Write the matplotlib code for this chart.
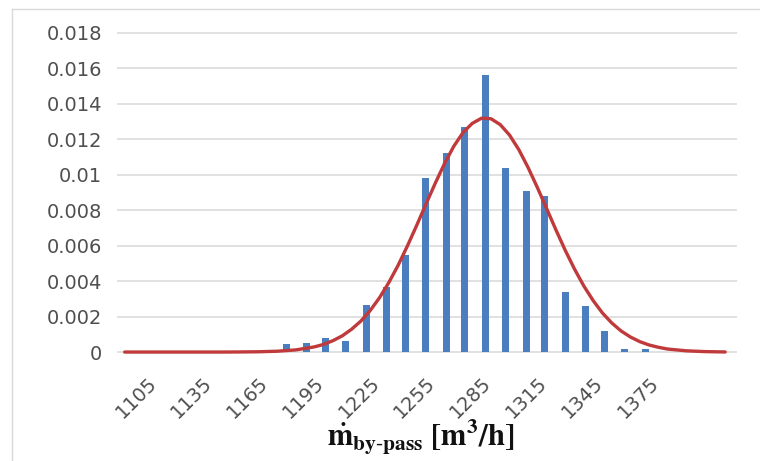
import matplotlib
matplotlib.use("Agg")
import matplotlib.pyplot as plt
from matplotlib.lines import Line2D

# ---- data ----
bar_x = [1180, 1191, 1201, 1212, 1223, 1234, 1244, 1255, 1266, 1276,
         1287, 1298, 1309, 1319, 1330, 1341, 1351, 1362, 1373]
bar_h = [0.00043, 0.00053, 0.00081, 0.00062, 0.00266, 0.00367, 0.00545,
         0.0098, 0.0112, 0.0127, 0.0156, 0.0104, 0.0091, 0.0088, 0.0034,
         0.0026, 0.0012, 0.00015, 0.00015]

curve_x = [1093, 1105, 1115, 1125, 1135, 1145, 1155, 1165, 1175, 1185, 1195,
           1200, 1205, 1210, 1215, 1220, 1225, 1230, 1235, 1240, 1245, 1250,
           1255, 1260, 1265, 1270, 1275, 1280, 1285, 1290, 1295, 1300, 1305,
           1310, 1315, 1320, 1325, 1330, 1335, 1340, 1345, 1350, 1355, 1360,
           1365, 1370, 1375, 1380, 1385, 1395, 1405, 1416]
curve_y = [0, 0, 0, 0, 0, 0, 0.000005, 0.000016, 0.000046, 0.00012, 0.00029,
           0.00043, 0.00064, 0.00091, 0.00128, 0.00174, 0.00233, 0.00305,
           0.0039, 0.00487, 0.00596, 0.00712, 0.00832, 0.0095, 0.01061,
           0.01159, 0.01237, 0.01289, 0.01318, 0.01315, 0.01282, 0.01223,
           0.01141, 0.0104, 0.00927, 0.00808, 0.00688, 0.00573, 0.00467,
           0.00372, 0.0029, 0.0022, 0.00164, 0.00119, 0.00085, 0.00059,
           0.0004, 0.00027, 0.00017, 0.00007, 0.000025, 0.000005]

x_ticks = [1105, 1135, 1165, 1195, 1225, 1255, 1285, 1315, 1345, 1375]
y_ticks = [0, 0.002, 0.004, 0.006, 0.008, 0.01, 0.012, 0.014, 0.016, 0.018]
y_labels = ["0", "0.002", "0.004", "0.006", "0.008", "0.01", "0.012",
            "0.014", "0.016", "0.018"]

plt.rcParams["mathtext.fontset"] = "stix"

fig = plt.figure(figsize=(7.6, 4.61), dpi=100)
ax = fig.add_axes([0.154, 0.2325, 0.8158, 0.7005])

ax.bar(bar_x, bar_h, width=3.8, color="#4a7ebf", zorder=2)
ax.plot(curve_x, curve_y, color="#c0393b", lw=2.4, zorder=3,
        solid_capstyle="round")

ax.set_xlim(1088.9, 1422.4)
ax.set_ylim(-0.0001, 0.0181)

ax.set_yticks(y_ticks)
ax.set_yticklabels(y_labels)
ax.set_xticks(x_ticks)
ax.set_xticklabels([str(v) for v in x_ticks], rotation=45, ha="right",
                   rotation_mode="anchor")

for s in ax.spines.values():
    s.set_visible(False)
ax.grid(axis="y", color="#d9d9d9", lw=1.1, zorder=0)
ax.set_axisbelow(True)
ax.tick_params(axis="both", length=0, labelsize=14, labelcolor="#4f4f4f")
ax.tick_params(axis="y", pad=11)
ax.tick_params(axis="x", pad=14)

fig.text(0.554, 0.05, r"$\mathbf{\dot{m}_{by\text{-}pass}\ [m^{3}/h]}$",
         ha="center", va="center", fontsize=22, color="#111111")

# chart area border (left and top edges visible)
fig.add_artist(Line2D([12 / 760, 12 / 760], [0, 1 - 9 / 461],
                      transform=fig.transFigure, color="#d9d9d9", lw=1))
fig.add_artist(Line2D([12 / 760, 1], [1 - 9 / 461, 1 - 9 / 461],
                      transform=fig.transFigure, color="#d9d9d9", lw=1))

fig.savefig("out.png", dpi=100, facecolor="white")
